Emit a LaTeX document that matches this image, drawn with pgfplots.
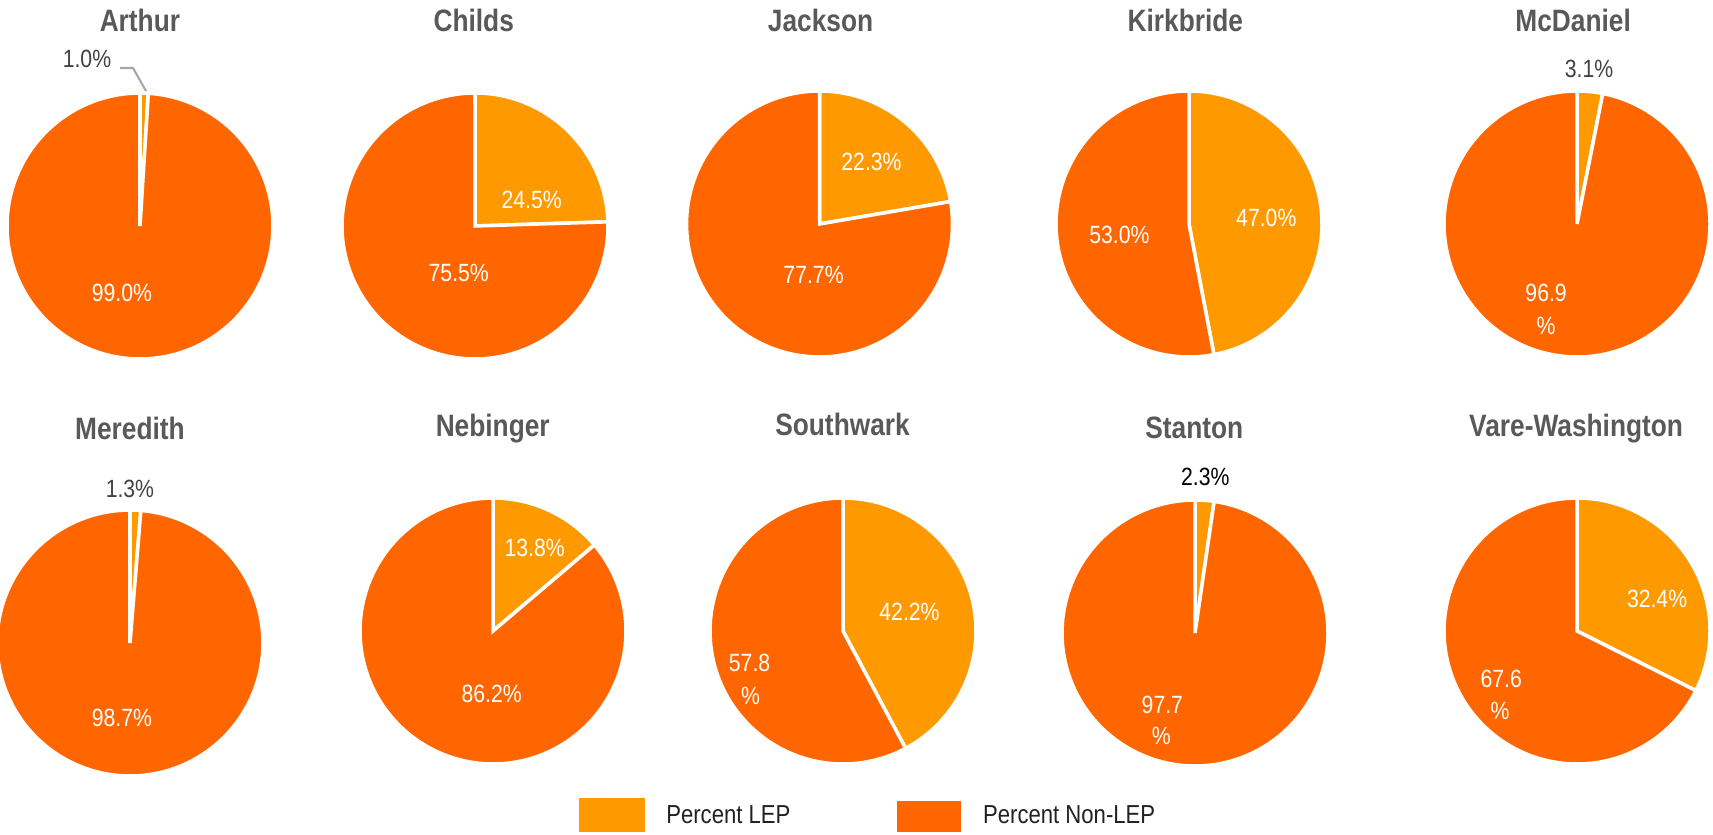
\documentclass[border=0pt]{standalone}
\usepackage{fontspec}
\setmainfont{Liberation Sans}[FakeStretch=0.85]
\usepackage{pgfplots}
\pgfplotsset{compat=1.18}
\definecolor{lep}{HTML}{FF9900}
\definecolor{nonlep}{HTML}{FF6600}
\definecolor{titlegrey}{HTML}{595959}
\definecolor{labgrey}{HTML}{424242}
\newcommand{\pie}[3]{%
  \addplot[fill=lep, draw=white, line width=1pt, domain=0:#3, samples=40, smooth]
    ({#1+133*sin(3.6*x)},{#2+133*cos(3.6*x)}) -- (axis cs:#1,#2) -- cycle;
  \addplot[fill=nonlep, draw=white, line width=1pt, domain=#3:100, samples=90, smooth]
    ({#1+133*sin(3.6*x)},{#2+133*cos(3.6*x)}) -- (axis cs:#1,#2) -- cycle;
}
\begin{document}
\begin{tikzpicture}
\begin{axis}[
  scale only axis, width=17.13cm, height=8.34cm,
  xmin=0, xmax=1713, ymin=0, ymax=834,
  hide axis, clip=true,
]
% cx, cy, percent LEP
\pie{140}{608}{1.0}
\pie{475}{608}{24.5}
\pie{819.5}{610}{22.3}
\pie{1189}{610}{47.0}
\pie{1577}{610}{3.1}
\pie{130}{191}{1.3}
\pie{493}{203}{13.8}
\pie{843}{203}{42.2}
\pie{1195}{201}{2.3}
\pie{1577}{203}{32.4}
\addplot[draw=gray!70, line width=0.6pt, no marks] coordinates {(120,766) (133,766) (146,743)};
\end{axis}
\begin{scope}[x=0.01cm, y=0.01cm]
\begin{scope}[font=\fontsize{8.8}{10}\selectfont\bfseries, text=titlegrey]
\node at (140,814) {Arthur};
\node at (474,814) {Childs};
\node at (821,814) {Jackson};
\node at (1186,814) {Kirkbride};
\node at (1574,814) {McDaniel};
\node at (130,406) {Meredith};
\node at (493,406) {Nebinger};
\node at (843,410) {Southwark};
\node at (1195,406) {Stanton};
\node at (1577,406) {Vare-Washington};
\end{scope}
\begin{scope}[font=\fontsize{7.1}{8}\selectfont]
\node[text=labgrey] at (87,776) {1.0\%};
\node[text=white] at (122,541) {99.0\%};
\node[text=white] at (532,634) {24.5\%};
\node[text=white] at (459,561) {75.5\%};
\node[text=white] at (872,672) {22.3\%};
\node[text=white] at (814,559) {77.7\%};
\node[text=white] at (1267,616) {47.0\%};
\node[text=white] at (1120,599) {53.0\%};
\node[text=labgrey] at (1590,766) {3.1\%};
\node[text=white] at (1547,541) {96.9};
\node[text=white] at (1547,508) {\%};
\node[text=labgrey] at (130,345) {1.3\%};
\node[text=white] at (122,116) {98.7\%};
\node[text=white] at (535,286) {13.8\%};
\node[text=white] at (492,140) {86.2\%};
\node[text=white] at (910,222) {42.2\%};
\node[text=white] at (750,171) {57.8};
\node[text=white] at (751,138) {\%};
\node[text=black] at (1206,357) {2.3\%};
\node[text=white] at (1163,129) {97.7};
\node[text=white] at (1162,98) {\%};
\node[text=white] at (1658,235) {32.4\%};
\node[text=white] at (1502,155) {67.6};
\node[text=white] at (1501,123) {\%};
\end{scope}
\fill[lep] (579,2) rectangle (645,36);
\fill[nonlep] (897,2) rectangle (962,33);
\begin{scope}[font=\fontsize{7.4}{8}\selectfont]
\node[anchor=west, text=black!87, inner sep=0pt] at (666,19) {Percent LEP};
\node[anchor=west, text=black!87, inner sep=0pt] at (983,19) {Percent Non-LEP};
\end{scope}
\end{scope}
\pgfresetboundingbox
\path (0,0) rectangle (17.13cm,8.34cm);
\end{tikzpicture}
\end{document}
